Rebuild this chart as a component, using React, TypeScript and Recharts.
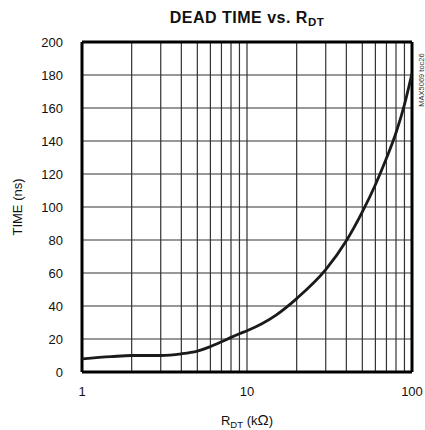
import React from 'react';
import { LineChart, Line, XAxis, YAxis, ReferenceLine, Label } from 'recharts';

// R_DT (kΩ) vs dead time (ns)
const rdt = [1, 1.5, 2, 3, 4, 5, 6, 7, 8, 9, 10, 15, 20, 30, 40, 50, 60, 70, 80, 90, 100];
const deadTime = [8, 9.3, 10, 10, 11, 12.7, 15.4, 18.3, 21, 23.2, 25, 34.5, 44.5, 62, 79.5, 97, 113.5, 129.5, 145, 162, 181];

const xTicks = [1, 10, 100];
const yTicks = [0, 20, 40, 60, 80, 100, 120, 140, 160, 180, 200];
const xGrid = [2, 3, 4, 5, 6, 7, 8, 9, 10, 20, 30, 40, 50, 60, 70, 80, 90];
const yGrid = [20, 40, 60, 80, 100, 120, 140, 160, 180];

const FONT = '"Liberation Sans", Arial, Helvetica, sans-serif';

const data = rdt.map((r, i) => ({ r, t: deadTime[i] }));

const XLabel = (props: any) => {
  const vb = props.viewBox || { x: 82, y: 372, width: 330, height: 58 };
  return (
    <text
      x={vb.x + vb.width / 2}
      y={425}
      textAnchor="middle"
      fontSize={13}
      fontFamily={FONT}
      fill="#111"
    >
      R
      <tspan fontSize={9.5} dy={3}>DT</tspan>
      <tspan fontSize={13} dy={-3}> (k</tspan>
      <tspan fontSize={15}>Ω</tspan>
      <tspan fontSize={13}>)</tspan>
    </text>
  );
};

const YLabel = (props: any) => {
  const vb = props.viewBox || { x: 22, y: 42, width: 60, height: 330 };
  const cy = vb.y + vb.height / 2;
  return (
    <text
      x={22}
      y={cy}
      transform={`rotate(-90, 22, ${cy})`}
      textAnchor="middle"
      fontSize={13}
      fontFamily={FONT}
      fill="#111"
    >
      TIME (ns)
    </text>
  );
};

export default function App() {
  const tickStyle = { fontSize: 13, fontFamily: FONT, fill: '#111' };
  return (
    <div style={{ position: 'absolute', left: 0, top: 0, width: 425, height: 430, background: '#fff' }}>
      <LineChart
        width={425}
        height={430}
        data={data}
        margin={{ top: 42, right: 13, bottom: 0, left: 22 }}
      >
        <XAxis
          dataKey="r"
          type="number"
          scale="log"
          domain={[1, 100]}
          ticks={xTicks}
          allowDataOverflow
          axisLine={false}
          tickLine={false}
          tickSize={0}
          tickMargin={15}
          height={58}
          tick={tickStyle}
        >
          <Label content={<XLabel />} />
        </XAxis>
        <YAxis
          type="number"
          domain={[0, 200]}
          ticks={yTicks}
          axisLine={false}
          tickLine={false}
          tickSize={0}
          tickMargin={19}
          width={60}
          tick={tickStyle}
        >
          <Label content={<YLabel />} />
        </YAxis>
        {xGrid.map((v) => (
          <ReferenceLine key={`vx-${v}`} x={v} stroke="#333" strokeWidth={1.2} />
        ))}
        {yGrid.map((v) => (
          <ReferenceLine key={`hy-${v}`} y={v} stroke="#333" strokeWidth={1.2} />
        ))}
        {/* frame */}
        <ReferenceLine x={1} stroke="#000" strokeWidth={3} />
        <ReferenceLine x={100} stroke="#000" strokeWidth={3} />
        <ReferenceLine y={0} stroke="#000" strokeWidth={3} />
        <ReferenceLine y={200} stroke="#000" strokeWidth={3} />
        <Line
          dataKey="t"
          type="monotone"
          stroke="#1a1a1a"
          strokeWidth={2.8}
          dot={false}
          isAnimationActive={false}
        />
      </LineChart>
      <svg
        width={425}
        height={430}
        style={{ position: 'absolute', left: 0, top: 0, pointerEvents: 'none' }}
      >
        <text
          x={247}
          y={23}
          textAnchor="middle"
          fontSize={16}
          fontWeight="bold"
          fontFamily={FONT}
          letterSpacing={0.5}
          fill="#111"
        >
          DEAD TIME vs.  R
          <tspan fontSize={11.5} dy={3}>DT</tspan>
        </text>
        <text
          x={424}
          y={80}
          transform="rotate(-90, 424, 80)"
          textAnchor="middle"
          fontSize={7.5}
          fontFamily={FONT}
          fill="#333"
        >
          MAX5069 toc26
        </text>
      </svg>
    </div>
  );
}
